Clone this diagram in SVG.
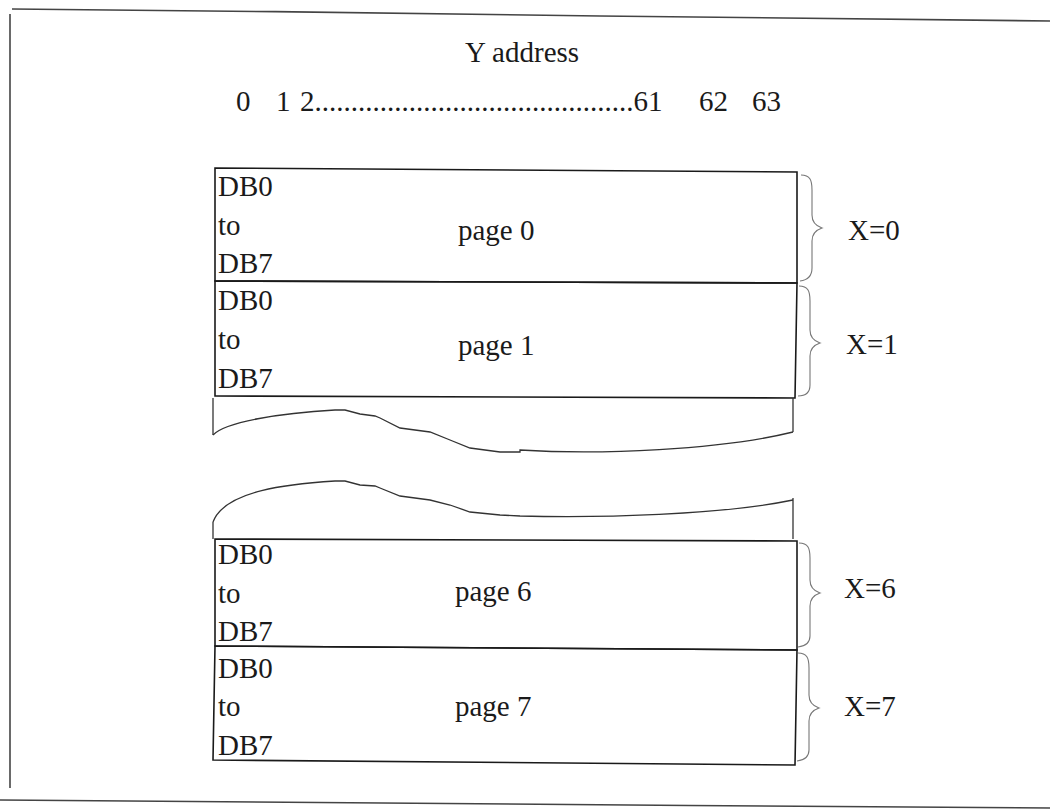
<svg xmlns="http://www.w3.org/2000/svg" width="1050" height="812" viewBox="0 0 1050 812">
<style>
text{font-family:"Liberation Serif","Times New Roman",serif;font-size:29px;fill:#1a1a1a}
.box{fill:none;stroke:#1a1a1a;stroke-width:1.6}
.frame{fill:none;stroke:#444;stroke-width:1.6}
.wave{fill:none;stroke:#333;stroke-width:1.3}
.brace{fill:none;stroke:#777;stroke-width:1.1}
</style>
<rect width="1050" height="812" fill="#fff"/>
<g id="frame">
<path class="frame" d="M12,9 C200,10 420,14 600,16 C800,18 950,20 1050,21"/>
<path class="frame" d="M10,14 L10,788"/>
<path class="frame" d="M0,800 C300,802 700,806 1050,808"/>
</g>
<g id="yaxis">
<text x="465" y="62">Y address</text>
<text x="236" y="111">0</text>
<text x="276" y="111">1</text>
<text x="300" y="111">2............................................61</text>
<text x="699" y="111">62</text>
<text x="752" y="111">63</text>
</g>
<g id="page0">
<path class="box" d="M215,168 L797,172 L797,283 L215,281 Z"/>
<text x="218" y="196">DB0</text>
<text x="218" y="235">to</text>
<text x="218" y="273">DB7</text>
<text x="458" y="240">page 0</text>
</g>
<g id="page1">
<path class="box" d="M215,281 L797,283 L795,398 L215,396 Z"/>
<text x="218" y="310">DB0</text>
<text x="218" y="349">to</text>
<text x="218" y="388">DB7</text>
<text x="458" y="355">page 1</text>
</g>
<g id="break">
<path class="wave" d="M213,398 L213,435"/>
<path class="wave" d="M793,398 L793,432"/>
<path class="wave" d="M213,435 C225,422 280,413 335,410 L345,410 L360,414 L375,416 L380,418 L400,428 L430,432 L450,440 L470,448 L500,452 L520,452 L520,450 C600,455 720,450 793,432"/>
<path class="wave" d="M213,522 C225,490 290,484 335,481 L345,481 L360,485 L375,486 L380,488 L400,496 L430,500 L450,505 L470,512 L500,515 L520,516 C600,518 720,515 793,500"/>
<path class="wave" d="M213,522 L213,539"/>
<path class="wave" d="M793,498 L793,539"/>
</g>
<g id="page6">
<path class="box" d="M215,539 L797,541 L797,650 L215,646 Z"/>
<text x="218" y="564">DB0</text>
<text x="218" y="603">to</text>
<text x="218" y="641">DB7</text>
<text x="455" y="601">page 6</text>
</g>
<g id="page7">
<path class="box" d="M215,646 L797,650 L795,765 L213,760 Z"/>
<text x="218" y="678">DB0</text>
<text x="218" y="716">to</text>
<text x="218" y="755">DB7</text>
<text x="455" y="716">page 7</text>
</g>
<g id="braces">
<path class="brace" d="M801,175 C810,175 812,180 812,190 L812,215 C812,222 816,226 822,228 C816,230 812,234 812,241 L812,268 C812,276 808,280 800,281"/>
<path class="brace" d="M799,286 C808,286 810,291 810,301 L810,330 C810,337 814,341 820,343 C814,345 810,349 810,356 L810,385 C810,392 806,396 798,396"/>
<path class="brace" d="M799,543 C808,543 810,548 810,558 L810,580 C810,587 814,591 820,593 C814,595 810,599 810,606 L810,636 C810,643 806,646 798,647"/>
<path class="brace" d="M798,653 C807,653 809,658 809,668 L809,695 C809,702 813,706 819,708 C813,710 809,714 809,721 L809,750 C809,757 805,760 797,761"/>
</g>
<g id="labels">
<text x="848" y="240">X=0</text>
<text x="846" y="354">X=1</text>
<text x="844" y="598">X=6</text>
<text x="844" y="716">X=7</text>
</g>
</svg>
